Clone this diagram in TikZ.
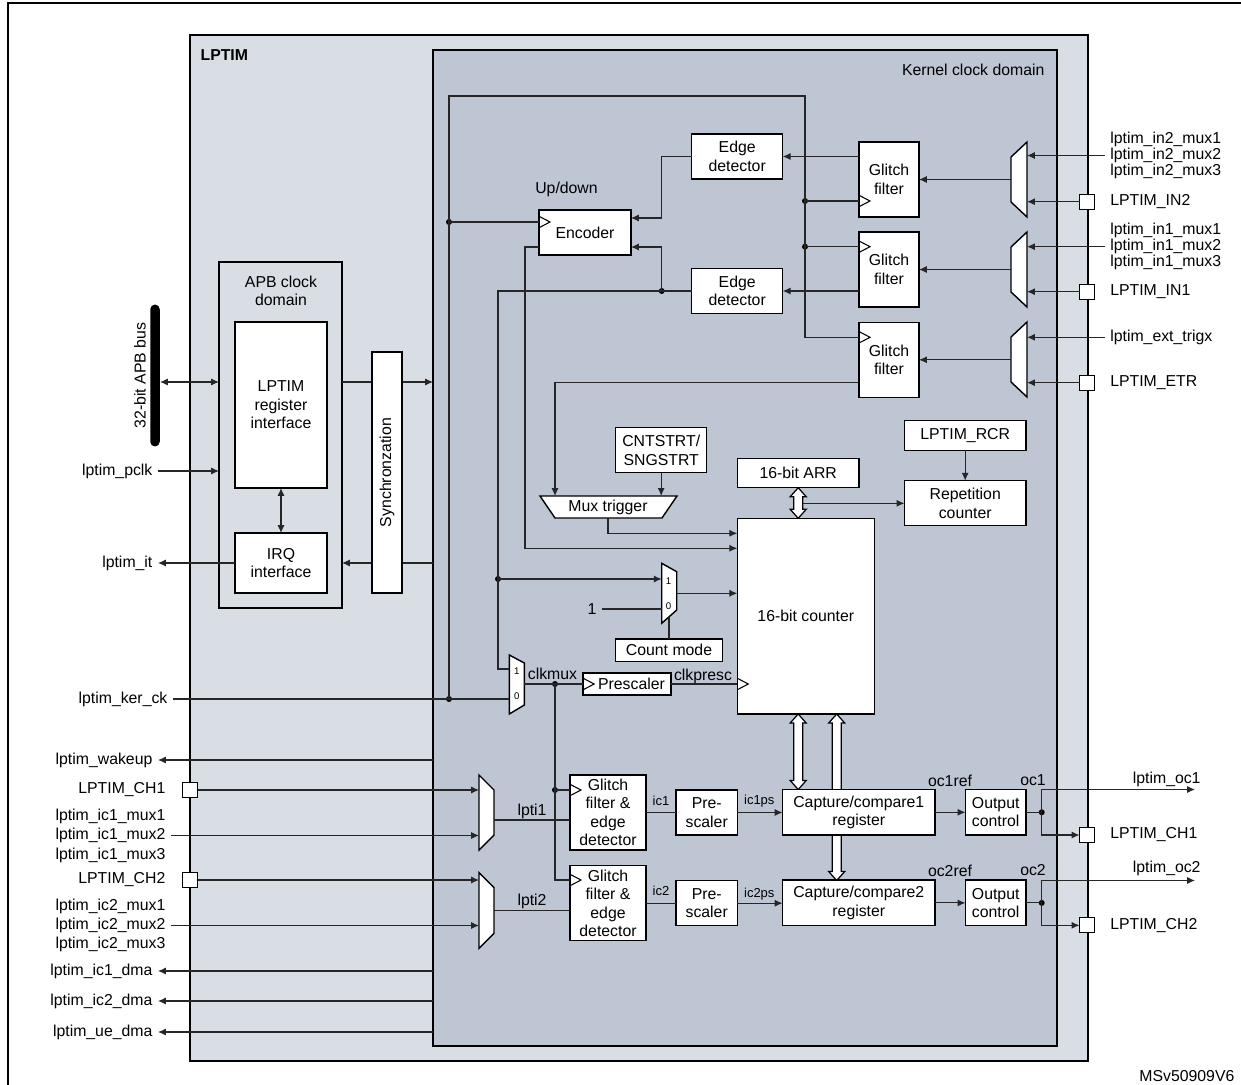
\documentclass[tikz,border=0pt]{standalone}
\usepackage{fontspec}
\setmainfont{Liberation Sans}
\usetikzlibrary{arrows.meta}

\definecolor{lptimbg}{RGB}{217,221,228}
\definecolor{kernbg}{RGB}{190,198,212}
\newcommand{\lbl}{\fontsize{9}{10.5}\selectfont}
\newcommand{\busarrow}[3]{%
  \draw[line width=0.7pt, fill=white] (#1,#2) -- ({#1+8},{#2+9}) -- ({#1+4.5},{#2+9}) -- ({#1+4.5},{#3-9}) -- ({#1+8},{#3-9}) -- (#1,#3) -- ({#1-8},{#3-9}) -- ({#1-4.5},{#3-9}) -- ({#1-4.5},{#2+9}) -- ({#1-8},{#2+9}) -- cycle;}
\newcommand{\clkmark}[1]{\draw[line width=0.6pt] ([yshift=0.115cm]#1) -- ++(0.22cm,-0.115cm) -- ++(-0.22cm,-0.115cm);}

\tikzset{
	blk/.style={draw, fill=white, line width=0.8pt, align=center, inner sep=0pt, outer sep=0pt, font=\lbl},
	domainbox/.style={draw, line width=1.3pt, inner sep=0pt, outer sep=0pt},
	wire/.style={line width=0.6pt, draw=black!85},
	arr/.style={wire, -{Latex[length=4.5pt,width=4pt]}},
	darr/.style={wire, {Latex[length=4.5pt,width=4pt]}-{Latex[length=4.5pt,width=4pt]}},
	jdot/.style={circle, fill=black, inner sep=0pt, minimum size=0.12cm},
	pad/.style={draw, fill=white, line width=0.7pt, minimum size=0.3cm, inner sep=0pt, outer sep=0pt},
	sig/.style={font=\lbl, inner sep=3pt},
	smalllbl/.style={font=\fontsize{7.4}{8}\selectfont, inner sep=1pt},
	muxdig/.style={font=\fontsize{5.5}{6}\selectfont, inner sep=0pt},
	mux/.style={draw, fill=white, line width=0.8pt},
}

\begin{document}
\begin{tikzpicture}[x=0.02cm, y=-0.02cm]
	\useasboundingbox (0,0) rectangle (1241,1085);
	\draw[line width=1.2pt] (8,1085) -- (8,3) -- (1241,3);

	% domains
	\node[domainbox, fill=lptimbg, minimum width=17.96cm, minimum height=20.52cm] (lptim) at (639,548) {};
	\node[sig, font=\lbl\bfseries, anchor=west] (lptimlbl) at (195,55) {LPTIM};
	\node[domainbox, fill=kernbg, minimum width=12.48cm, minimum height=19.92cm] (kern) at (745,548) {};
	\node[sig, anchor=east] (kernlbl) at (1050,70) {Kernel clock domain};
	\node[domainbox, fill=lptimbg, minimum width=2.46cm, minimum height=6.92cm] (apb) at (280.5,435) {};
	\node[sig, align=center] (apblbl) at (281,291) {APB clock\\domain};

	% APB side
	\node[blk, minimum width=1.84cm, minimum height=3.32cm] (regif) at (281,405) {LPTIM\\register\\interface};
	\node[blk, minimum width=1.84cm, minimum height=1.2cm] (irq) at (281,563) {IRQ\\interface};
	\node[fill=black, rounded corners=0.095cm, minimum width=0.19cm, minimum height=2.84cm, inner sep=0pt] (apbbus) at (155,375.5) {};
	\node[sig, rotate=90] (apbbuslbl) at (140,375.5) {32-bit APB bus};
	\coordinate (apbio) at (160,382);
	\draw[darr] (apbio) -- (apbio -| apb.west);
	\draw[arr] (apbio -| apb.east) -- (apbio -| kern.west);
	\draw[arr] (irq -| kern.west) -- (irq -| apb.east);
	\draw[darr] (regif.south) -- (irq.north);
	\node[blk, rotate=90, minimum width=4.82cm, minimum height=0.6cm] (sync) at (387,472.5) {Synchronzation};
	\node[sig, anchor=east] (pclk) at (158,471) {lptim\_pclk};
	\draw[arr] (pclk.east) -- (pclk.east -| apb.west);
	\node[sig, anchor=east] (it) at (158,563) {lptim\_it};
	\draw[arr] (irq.west) -- (it.east);

	% left signals
	\node[sig, anchor=east] (kerck) at (173,699) {lptim\_ker\_ck};
	\node[sig, anchor=east] (wakeup) at (158,760) {lptim\_wakeup};
	\node[pad] (ch1in) at (190,790) {};
	\node[sig, anchor=east] (ch1lbl) at (171,790) {LPTIM\_CH1};
	\node[sig, anchor=east] (ic1m1) at (171,816) {lptim\_ic1\_mux1};
	\node[sig, anchor=east] (ic1m2) at (171,835.5) {lptim\_ic1\_mux2};
	\node[sig, anchor=east] (ic1m3) at (171,855) {lptim\_ic1\_mux3};
	\node[pad] (ch2in) at (190,880) {};
	\node[sig, anchor=east] (ch2lbl) at (171,880) {LPTIM\_CH2};
	\node[sig, anchor=east] (ic2m1) at (171,906) {lptim\_ic2\_mux1};
	\node[sig, anchor=east] (ic2m2) at (171,925.5) {lptim\_ic2\_mux2};
	\node[sig, anchor=east] (ic2m3) at (171,944.5) {lptim\_ic2\_mux3};
	\node[sig, anchor=east] (ic1dma) at (158,971) {lptim\_ic1\_dma};
	\node[sig, anchor=east] (ic2dma) at (158,1001) {lptim\_ic2\_dma};
	\node[sig, anchor=east] (uedma) at (158,1032) {lptim\_ue\_dma};
	\draw[arr] (wakeup -| kern.west) -- (wakeup.east);
	\draw[arr] (ic1dma -| kern.west) -- (ic1dma.east);
	\draw[arr] (ic2dma -| kern.west) -- (ic2dma.east);
	\draw[arr] (uedma -| kern.west) -- (uedma.east);

	% hollow buses
	\busarrow{798.2}{487.7}{518.3}
	\busarrow{798.2}{714}{789.5}
	\busarrow{836.7}{714}{880.5}

	% input muxes
	\draw[mux] (1011,157) -- (1027,142) -- (1027,217) -- (1011,202) -- cycle;
	\draw[mux] (1011,247) -- (1027,232) -- (1027,307) -- (1011,292) -- cycle;
	\draw[mux] (1011,337) -- (1027,322) -- (1027,397) -- (1011,382) -- cycle;
	\coordinate (mAr) at (1027,179.5);
	\coordinate (mAo) at (1011,179.5);
	\coordinate (mBo) at (1011,269.5);
	\coordinate (mCo) at (1011,359.8);
	\draw[mux] (479,775) -- (494,790) -- (494,835) -- (479,850) -- cycle;
	\draw[mux] (479,872.7) -- (494,887.7) -- (494,933.3) -- (479,948.3) -- cycle;
	\coordinate (mx1a) at (479,790);
	\coordinate (mx1o) at (494,820);
	\coordinate (mx2o) at (494,910.7);

	% kernel blocks
	\node[blk, minimum width=1.2cm, minimum height=1.5cm] (gf1) at (889,179.5) {Glitch\\filter};
	\node[blk, minimum width=1.2cm, minimum height=1.5cm] (gf2) at (889,269.5) {Glitch\\filter};
	\node[blk, minimum width=1.2cm, minimum height=1.5cm] (gf3) at (889,359.8) {Glitch\\filter};
	\node[blk, minimum width=1.82cm, minimum height=0.9cm] (ed1) at (737.2,156.5) {Edge\\detector};
	\node[blk, minimum width=1.82cm, minimum height=0.9cm] (ed2) at (737.2,291) {Edge\\detector};
	\node[blk, minimum width=1.84cm, minimum height=0.9cm] (enc) at (585,232.5) {Encoder};
	\node[sig] (updown) at (566.5,189) {Up/down};
	\node[blk, minimum width=1.82cm, minimum height=0.9cm] (cnt) at (661.2,450.2) {CNTSTRT/\\SNGSTRT};
	\draw[mux] (540,496) -- (677,496) -- (662,518) -- (555,518) -- cycle;
	\node[sig] (muxtrig) at (608,507) {Mux trigger};
	\node[blk, minimum width=2.74cm, minimum height=3.92cm] (ctr) at (805.8,616.2) {16-bit counter};
	\node[blk, minimum width=2.43cm, minimum height=0.59cm] (arrreg) at (798.2,473) {16-bit ARR};
	\node[blk, minimum width=2.43cm, minimum height=0.6cm] (rcr) at (965.2,435.3) {LPTIM\_RCR};
	\node[blk, minimum width=2.43cm, minimum height=0.9cm] (rep) at (965.2,503.2) {Repetition\\counter};
	\draw[mux] (661.7,563.3) -- (676.7,571.7) -- (676.7,610) -- (661.7,623.3) -- cycle;
	\node[muxdig] (cm1) at (668.5,581.5) {1};
	\node[muxdig] (cm0) at (668.5,606) {0};
	\node[blk, minimum width=2.13cm, minimum height=0.45cm] (cmode) at (669,650.3) {Count mode};
	\node[sig] (one) at (592,609) {1};
	\draw[mux] (509.3,655) -- (524.3,663) -- (524.3,705) -- (509.3,714) -- cycle;
	\node[muxdig] (ck1) at (516.8,671.5) {1};
	\node[muxdig] (ck0) at (516.8,696.5) {0};
	\node[sig] (clkmuxlbl) at (552.5,674) {clkmux};
	\node[blk, minimum width=1.76cm, minimum height=0.44cm] (psc) at (627,684) {\hspace{0.18cm}Prescaler};
	\node[sig] (clkpresclbl) at (703,676.5) {clkpresc};

	% capture / compare channels
	\node[blk, minimum width=1.52cm, minimum height=1.5cm] (gfed1) at (608,812.5) {Glitch\\filter \&\\edge\\detector};
	\node[blk, minimum width=1.52cm, minimum height=1.5cm] (gfed2) at (608,903.2) {Glitch\\filter \&\\edge\\detector};
	\node[blk, minimum width=1.23cm, minimum height=0.9cm] (psc1) at (706.7,812.5) {Pre-\\scaler};
	\node[blk, minimum width=1.23cm, minimum height=0.9cm] (psc2) at (706.7,903.2) {Pre-\\scaler};
	\node[blk, minimum width=3.05cm, minimum height=0.91cm] (cc1) at (858.8,812.3) {Capture/compare1\\register};
	\node[blk, minimum width=3.05cm, minimum height=0.91cm] (cc2) at (858.8,902.9) {Capture/compare2\\register};
	\node[blk, minimum width=1.21cm, minimum height=0.91cm] (oc1) at (995.7,812.3) {Output\\control};
	\node[blk, minimum width=1.21cm, minimum height=0.91cm] (oc2) at (995.7,902.9) {Output\\control};
	\node[sig] (lpti1) at (532,811) {lpti1};
	\node[sig] (lpti2) at (532,901.5) {lpti2};
	\node[smalllbl] (ic1) at (661,801) {ic1};
	\node[smalllbl] (ic2) at (661,891) {ic2};
	\node[smalllbl] (ic1ps) at (759.3,801.5) {ic1ps};
	\node[smalllbl] (ic2ps) at (759.3,894) {ic2ps};
	\node[sig] (oc1ref) at (950,780.5) {oc1ref};
	\node[sig] (oc2ref) at (950,870.5) {oc2ref};
	\node[sig] (oc1lbl) at (1033,780.5) {oc1};
	\node[sig] (oc2lbl) at (1033,870.5) {oc2};

	% right signals
	\node[sig, anchor=west] (in2m1) at (1104.7,139.3) {lptim\_in2\_mux1};
	\node[sig, anchor=west] (in2m2) at (1104.7,155.5) {lptim\_in2\_mux2};
	\node[sig, anchor=west] (in2m3) at (1104.7,171.3) {lptim\_in2\_mux3};
	\node[pad] (padin2) at (1087,201.7) {};
	\node[sig, anchor=west] (in2lbl) at (1104.7,201.7) {LPTIM\_IN2};
	\node[sig, anchor=west] (in1m1) at (1104.7,230.5) {lptim\_in1\_mux1};
	\node[sig, anchor=west] (in1m2) at (1104.7,246.7) {lptim\_in1\_mux2};
	\node[sig, anchor=west] (in1m3) at (1104.7,262.5) {lptim\_in1\_mux3};
	\node[pad] (padin1) at (1087,291.7) {};
	\node[sig, anchor=west] (in1lbl) at (1104.7,291.7) {LPTIM\_IN1};
	\node[sig, anchor=west] (exttrig) at (1104.7,337.3) {lptim\_ext\_trigx};
	\node[pad] (padetr) at (1087,382.7) {};
	\node[sig, anchor=west] (etrlbl) at (1104.7,382.7) {LPTIM\_ETR};
	\node[pad] (padch1) at (1087,835) {};
	\node[sig, anchor=west] (ch1olbl) at (1104.7,835) {LPTIM\_CH1};
	\node[pad] (padch2) at (1087,925.3) {};
	\node[sig, anchor=west] (ch2olbl) at (1104.7,925.3) {LPTIM\_CH2};
	\node[sig] (lptoc1) at (1166.7,779) {lptim\_oc1};
	\node[sig] (lptoc2) at (1166.7,868.5) {lptim\_oc2};
	\node[sig, anchor=east] (msv) at (1240,1076) {MSv50909V6};

	% ports
	\coordinate (encck) at (539,222);
	\coordinate (encin1) at (631,218);
	\coordinate (encin2) at (631,247);
	\coordinate (gf1ck) at (859,201);
	\coordinate (gf2ck) at (859,246.7);
	\coordinate (gf3ck) at (859,337.3);
	\coordinate (cktop) at (805,96);
	\coordinate (mtin1) at (555,496);
	\coordinate (mtout) at (608,518);
	\coordinate (ctrin1) at (737.3,533.3);
	\coordinate (ctrin2) at (737.3,548.3);
	\coordinate (cmin1) at (661.7,579);
	\coordinate (cmin0) at (661.7,609);
	\coordinate (cmout) at (676.7,593.3);
	\coordinate (cmsel) at (669,616.8);
	\coordinate (ckin1) at (509.3,669);
	\coordinate (ckin0) at (509.3,699);
	\coordinate (ckout) at (524.3,684);
	\coordinate (pscck) at (583.2,684);
	\coordinate (ctrck) at (737.3,684);
	\coordinate (gfed1ck) at (570,790);
	\coordinate (gfed2ck) at (570,880);
	\coordinate (arrbr) at (802.7,503.3);
	\coordinate (oc1end) at (1195,789.5);
	\coordinate (oc2end) at (1195,880.5);

	% junctions
	\node[jdot] (jk1) at (449,699) {};
	\node[jdot] (jk2) at (449,222) {};
	\node[jdot] (jg1) at (805,201) {};
	\node[jdot] (jg2) at (805,246.7) {};
	\path (ed2.west) ++(-30,0) node[jdot] (jed2) {};
	\node[jdot] (jcm) at (498,579) {};
	\node[jdot] (jck) at (555,684) {};
	\node[jdot] (jgf) at (555,790) {};
	\node[jdot] (joc1) at (1041.7,812.3) {};
	\node[jdot] (joc2) at (1041.7,902.9) {};

	% kernel clock tree
	\draw[wire] (kerck.east) -- (jk1.center) -- (ckin0);
	\draw[wire] (jk1.center) -- (jk2.center) |- (cktop) |- (gf3ck);
	\draw[wire] (jk2.center) -- (encck);
	\draw[wire] (jg1.center) -- (gf1ck);
	\draw[wire] (jg2.center) -- (gf2ck);

	% inputs to glitch filters
	\draw[arr] (in2m2.west) -- (in2m2.west -| mAr);
	\draw[arr] (padin2.west) -- (padin2.west -| mAr);
	\draw[arr] (in1m2.west) -- (in1m2.west -| mAr);
	\draw[arr] (padin1.west) -- (padin1.west -| mAr);
	\draw[arr] (exttrig.west) -- (exttrig.west -| mAr);
	\draw[arr] (padetr.west) -- (padetr.west -| mAr);
	\draw[arr] (mAo) -- (gf1.east);
	\draw[arr] (mBo) -- (gf2.east);
	\draw[arr] (mCo) -- (gf3.east);
	\draw[arr] (gf1.west |- ed1) -- (ed1.east);
	\draw[arr] (gf2.west |- ed2) -- (ed2.east);
	\draw[arr] (gf3.west |- padetr) -| (mtin1);

	% encoder and counter inputs
	\draw[arr] (ed1.west) -- ++(-30,0) |- (encin1);
	\draw[arr] (jed2.center) |- (encin2);
	\draw[wire] (ed2.west) -- (jed2.center) -- ++(-163.7,0) |- (ckin1);
	\draw[arr] (enc.west |- encin2) -- ++(-14,0) |- (ctrin2);
	\draw[arr] (cnt.south) -- (cnt.south |- mtin1);
	\draw[arr] (mtout) |- (ctrin1);
	\draw[arr] (jcm.center) -- (cmin1);
	\draw[wire] (one.east) -- (cmin0);
	\draw[arr] (cmout) -- (cmout -| ctr.west);
	\draw[wire] (cmode.north) -- (cmsel);
	\draw[wire] (ckout) -- (pscck);
	\draw[wire] (psc.east) -- (ctrck);
	\draw[arr] (rcr.south) -- (rep.north);
	\draw[arr] (arrbr) -- (arrbr -| rep.west);

	% channels
	\draw[arr] (ch1in.east) -- (mx1a);
	\draw[arr] (ic1m2.east) -- (ic1m2.east -| mx1a);
	\draw[arr] (ch2in.east) -- (ch2in.east -| mx1a);
	\draw[arr] (ic2m2.east) -- (ic2m2.east -| mx1a);
	\draw[wire] (mx1o) -- (mx1o -| gfed1.west);
	\draw[wire] (mx2o) -- (mx2o -| gfed2.west);
	\draw[wire] (jck.center) |- (gfed2ck);
	\draw[wire] (jgf.center) -- (gfed1ck);
	\draw[wire] (gfed1.east |- psc1) -- (psc1.west);
	\draw[wire] (gfed2.east |- psc2) -- (psc2.west);
	\draw[arr] (psc1.east) -- (psc1.east -| cc1.west);
	\draw[arr] (psc2.east) -- (psc2.east -| cc2.west);
	\draw[arr] (cc1.east) -- (oc1.west);
	\draw[arr] (cc2.east) -- (oc2.west);
	\draw[wire] (oc1.east) -- (joc1.center);
	\draw[wire] (oc2.east) -- (joc2.center);
	\draw[arr] (joc1.center) |- (oc1end);
	\draw[arr] (joc1.center) |- (padch1.west);
	\draw[arr] (joc2.center) |- (oc2end);
	\draw[arr] (joc2.center) |- (padch2.west);

	% clock inputs
	\clkmark{encck}
	\clkmark{gf1ck}
	\clkmark{gf2ck}
	\clkmark{gf3ck}
	\clkmark{pscck}
	\clkmark{ctrck}
	\clkmark{gfed1ck}
	\clkmark{gfed2ck}
\end{tikzpicture}
\end{document}
